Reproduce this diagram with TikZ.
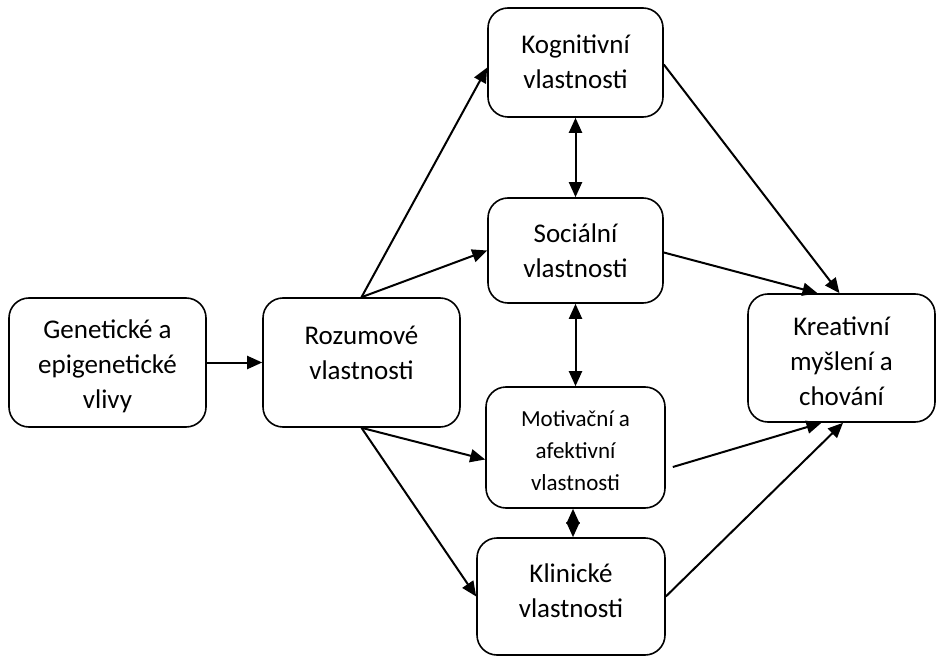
\documentclass[tikz,border=0pt]{standalone}
\usepackage{fontspec}
\setmainfont{Carlito}
\usetikzlibrary{arrows.meta,calc}
\begin{document}
\begin{tikzpicture}[x=1pt,y=1pt,
  box/.style={draw=black, line width=1.6pt, rounded corners=20pt, fill=white, inner sep=0pt},
  txt/.style={align=center, inner sep=0pt, font=\fontsize{27}{35}\selectfont},
  smalltxt/.style={align=center, inner sep=0pt, font=\fontsize{23}{32}\selectfont},
  conn/.style={line width=2pt, -{Triangle[length=15pt,width=13pt]}},
  biconn/.style={line width=2pt, {Triangle[length=15pt,width=13pt]}-{Triangle[length=15pt,width=13pt]}}]
\useasboundingbox (0,0) rectangle (939,657);
\node[box, minimum width=197pt, minimum height=129pt,
  label={[txt, yshift=-4pt]center:Genetické a\\epigenetické\\vlivy}] (gen) at (107.5,294.5) {};
\node[box, minimum width=197pt, minimum height=129pt,
  label={[txt, yshift=10pt]center:Rozumové\\vlastnosti}] (roz) at (361.5,294.5) {};
\node[box, minimum width=175pt, minimum height=109pt,
  label={[txt, yshift=1pt]center:Kognitivní\\vlastnosti}] (kog) at (575.5,594.5) {};
\node[box, minimum width=175pt, minimum height=105pt,
  label={[txt]center:Sociální\\vlastnosti}] (soc) at (575.5,406.5) {};
\node[box, minimum width=179pt, minimum height=121pt,
  label={[smalltxt, yshift=-3pt]center:Motivační a\\afektivní\\vlastnosti}] (mot) at (575.5,209.5) {};
\node[box, minimum width=188pt, minimum height=117pt,
  label={[txt, yshift=6pt]center:Klinické\\vlastnosti}] (kli) at (571,60.5) {};
\node[box, minimum width=187pt, minimum height=128pt,
  label={[txt, yshift=-3pt]center:Kreativní\\myšlení a\\chování}] (kre) at (841.5,299) {};

\draw[conn] (gen.east) -- (roz.west);
\draw[conn] (roz.north) -- ([yshift=-5pt]kog.west);
\draw[conn] (roz.north) -- (soc.west);
\draw[conn] (roz.south) -- ([yshift=-12pt]mot.west);
\draw[conn] (roz.south) -- (kli.west);
\draw[biconn] (kog.south) -- (soc.north);
\draw[biconn] (soc.south) -- (mot.north);
\draw[biconn] ([xshift=2pt]mot.south -| kli.north) -- ([xshift=2pt]kli.north);
\draw[conn] ([yshift=-2pt]kog.east) -- ([xshift=-2pt]kre.north);
\draw[conn] ([yshift=-2pt]soc.east) -- ([xshift=-24pt]kre.north);
\draw[conn] ([xshift=7pt,yshift=-19.5pt]mot.east) -- ([xshift=-20pt]kre.south);
\draw[conn] (kli.east) -- ([xshift=1.5pt]kre.south);
\end{tikzpicture}
\end{document}
